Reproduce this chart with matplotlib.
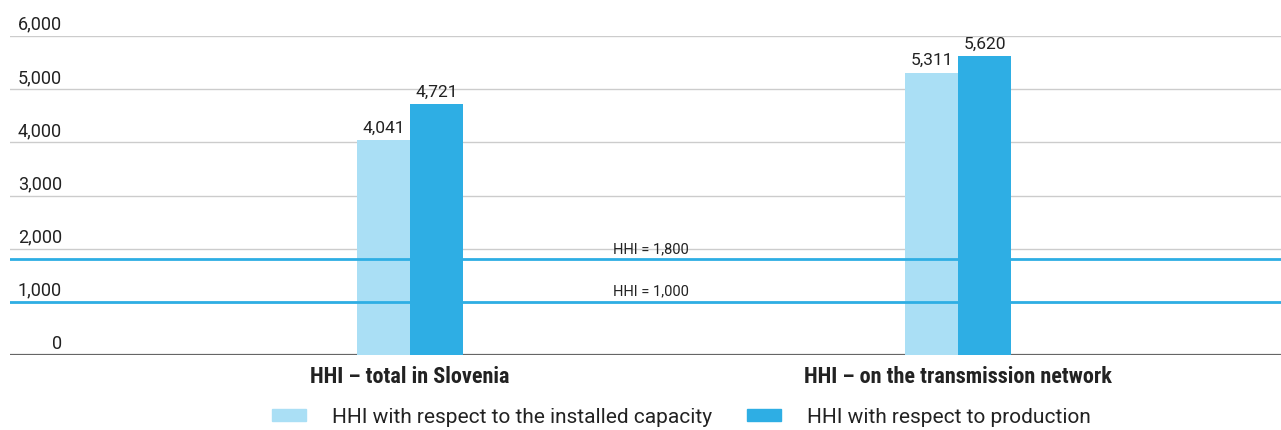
import matplotlib
matplotlib.use('Agg')
import matplotlib.pyplot as plt
from matplotlib.patches import Patch
import numpy as np

# data
categories = ['HHI – total in Slovenia', 'HHI – on the transmission network']
installed = [4041, 5311]
production = [4721, 5620]
series_names = ['HHI with respect to the installed capacity', 'HHI with respect to production']
thresholds = [1800, 1000]
yticks = [0, 1000, 2000, 3000, 4000, 5000, 6000]

light = '#aadff5'
dark = '#2eaee4'
txt = '#222222'

plt.rcParams['font.family'] = ['Roboto', 'DejaVu Sans']

fig = plt.figure(figsize=(12.81, 4.31), dpi=100)
ax = fig.add_axes([10 / 1281, 75 / 431, 1271 / 1281, 319 / 431])

x = np.arange(len(categories))
w = 0.0967

# gridlines with labels sitting above them
for t in yticks:
    if t == 0:
        ax.axhline(t, color='#666666', lw=1.6, zorder=1)
    else:
        ax.axhline(t, color='#cccccc', lw=1.0, zorder=1)
    ax.text(0.041, t + 60, f'{t:,}', transform=ax.get_yaxis_transform(),
            ha='right', va='bottom', fontsize=13, color=txt)

bars1 = ax.bar(x - w / 2, installed, w, color=light, zorder=2)
bars2 = ax.bar(x + w / 2, production, w, color=dark, zorder=2)

for bars in (bars1, bars2):
    for b in bars:
        h = b.get_height()
        ax.text(b.get_x() + b.get_width() / 2, h + 100, f'{h:,.0f}',
                ha='center', va='bottom', fontsize=12.5, color=txt)

# threshold lines
for t in thresholds:
    ax.axhline(t, color=dark, lw=2.0, zorder=3)
    ax.text(0.44, t + 80, f'HHI = {t:,}', ha='center', va='bottom',
            fontsize=10.5, color=txt)

ax.set_xlim(-0.73, 1.589)
ax.set_ylim(0, 6000)
ax.set_yticks([])
ax.set_xticks(x)
ax.set_xticklabels(categories, fontsize=16, fontweight='bold',
                   family=['Roboto Condensed', 'Liberation Sans Narrow', 'Roboto'])
ax.tick_params(axis='x', length=0, pad=7, colors=txt)
for s in ax.spines.values():
    s.set_visible(False)

handles = [Patch(color=light), Patch(color=dark)]
fig.legend(handles, series_names, loc='lower center', ncol=2, frameon=False,
           bbox_to_anchor=(0.532, -0.035), fontsize=15, handlelength=1.6,
           handleheight=0.55, columnspacing=1.7, handletextpad=1.25,
           labelcolor=txt)

plt.savefig('out.png', dpi=100)
